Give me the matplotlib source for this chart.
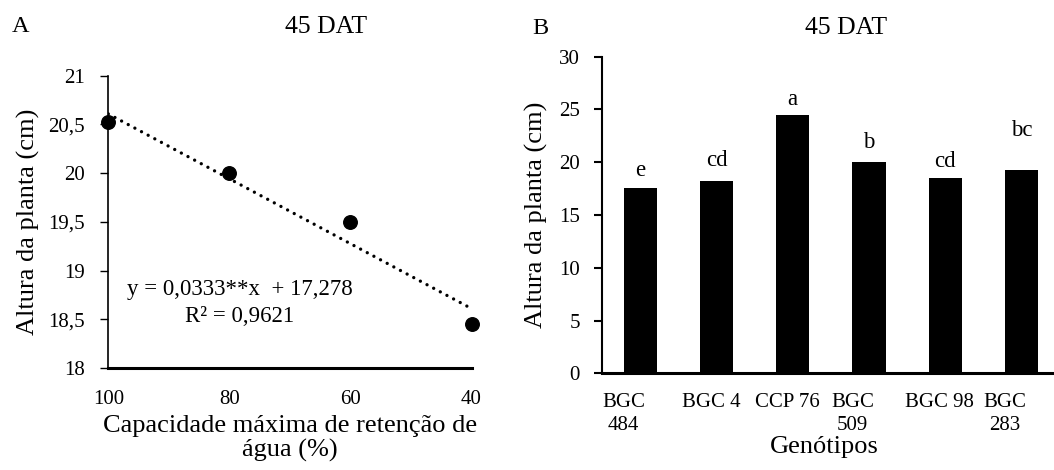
import matplotlib
matplotlib.use("Agg")
import matplotlib.pyplot as plt
import numpy as np

# ---------------- data ----------------
# Panel A: plant height vs. water retention capacity
capacity = [100, 80, 60, 40]
height_a = [20.52, 20.0, 19.5, 18.45]
slope, intercept = 0.0333, 17.278
eq_text = "y = 0,0333**x  + 17,278"
r2_text = "R² = 0,9621"
a_xticks = [100, 80, 60, 40]
a_yticks = [18, 18.5, 19, 19.5, 20, 20.5, 21]
a_yticklabels = ["18", "18,5", "19", "19,5", "20", "20,5", "21"]

# Panel B: plant height per genotype
genotypes = ["BGC\n484", "BGC 4", "CCP 76", "BGC\n509", "BGC 98", "BGC\n283"]
height_b = [17.6, 18.2, 24.5, 20.0, 18.5, 19.3]
letters = ["e", "cd", "a", "b", "cd", "bc"]
letter_y = [18.7, 19.65, 25.4, 21.3, 19.5, 22.5]
b_yticks = [0, 5, 10, 15, 20, 25, 30]

# ---------------- style ----------------
plt.rcParams['font.family'] = ['Liberation Serif', 'DejaVu Serif']
W, H = 1054, 470
fig = plt.figure(figsize=(W / 100, H / 100), dpi=100)

def fx(px):
    return px / W

def fy(py):
    return 1 - py / H

TICK = 15
LABEL = 19
TITLE = 18.5

# ---------------- Panel A ----------------
axA = fig.add_axes([fx(108.3), fy(368), fx(471.5) - fx(108.3), fy(75.7) - fy(368)])
axA.scatter(capacity, height_a, s=95, color='black', zorder=3, clip_on=False)
xl = np.array([capacity[0], capacity[-1]], dtype=float)
axA.plot(xl, slope * xl + intercept, color='black', lw=2.4,
         linestyle=(0, (0.01, 2.25)), dash_capstyle='round', zorder=2)
axA.set_xlim(100, 40)
axA.set_ylim(18, 21)
axA.set_xticks(a_xticks)
axA.set_xticklabels([str(v) for v in a_xticks], fontsize=TICK)
axA.set_yticks(a_yticks)
axA.set_yticklabels(a_yticklabels, fontsize=TICK)
axA.tick_params(axis='x', length=0, pad=16)
axA.tick_params(axis='y', length=6, width=1, pad=11, direction='out')
for s in ['top', 'right']:
    axA.spines[s].set_visible(False)
axA.spines['left'].set_linewidth(1.2)
axA.spines['bottom'].set_linewidth(2.2)
axA.set_xlabel("Capacidade máxima de retenção de\nágua (%)", fontsize=LABEL,
               linespacing=1.12, labelpad=4)
axA.set_ylabel("Altura da planta (cm)", fontsize=LABEL, labelpad=6)
axA.text(0.3626, 0.267, eq_text, transform=axA.transAxes, ha='center', va='center', fontsize=16.5)
axA.text(0.3626, 0.1745, r2_text, transform=axA.transAxes, ha='center', va='center', fontsize=16.5)

# ---------------- Panel B ----------------
xb = np.arange(len(genotypes))
axB = fig.add_axes([fx(602), fy(373.3), fx(1059.8) - fx(602), fy(56.6) - fy(373.3)])
axB.bar(xb, height_b, width=0.436, color='black', zorder=2)
axB.set_xlim(-0.5, 5.5)
axB.set_ylim(0, 30)
axB.set_yticks(b_yticks)
axB.set_yticklabels([str(v) for v in b_yticks], fontsize=TICK)
axB.tick_params(axis='y', length=6, width=1.5, pad=10, direction='out')
axB.set_xticks(xb)
axB.set_xticklabels([])
axB.tick_params(axis='x', length=0)
for i, (g, lab) in enumerate(zip(genotypes, letters)):
    dx = -12 if "\n" in g else -4
    axB.annotate(g, xy=(xb[i], 0), xycoords=('data', 'axes fraction'),
                 xytext=(dx, -14), textcoords='offset points',
                 ha='center', va='top', fontsize=TICK, multialignment='center',
                 linespacing=1.3, annotation_clip=False)
    axB.text(xb[i], letter_y[i], lab, ha='center', va='baseline', fontsize=16.5)
for s in ['top', 'right']:
    axB.spines[s].set_visible(False)
axB.spines['left'].set_linewidth(1.5)
axB.spines['bottom'].set_linewidth(2.2)
axB.set_ylabel("Altura da planta (cm)", fontsize=LABEL, labelpad=8)
fig.text(fx(824), fy(447), "Genótipos", ha='center', va='center', fontsize=LABEL)

# ---------------- titles / panel letters ----------------
fig.text(fx(326), fy(27), "45 DAT", ha='center', va='center', fontsize=TITLE)
fig.text(fx(846), fy(28), "45 DAT", ha='center', va='center', fontsize=TITLE)
fig.text(fx(12), fy(27), "A", ha='left', va='center', fontsize=17.5)
fig.text(fx(532), fy(28), "B", ha='left', va='center', fontsize=17.5)

fig.savefig("out.png", dpi=100)
